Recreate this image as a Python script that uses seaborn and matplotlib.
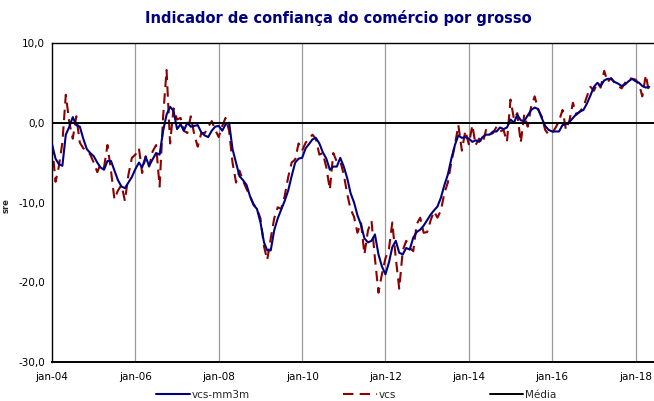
import numpy as np
import pandas as pd
import seaborn as sns
import matplotlib.pyplot as plt

# saldo de respostas extremas, mensal, jan-2004 a mai-2018
vcs_mm3m = [
    -2.7, -4.5, -5.2, -5.4, -1.5, -0.5, 0.7, -0.3, -0.5, -2.0, -3.3, -3.8,
    -4.2, -5.0, -5.6, -5.9, -4.8, -4.8, -6.0, -7.2, -8.0, -8.2, -7.5, -6.8,
    -5.8, -5.0, -5.6, -4.3, -5.4, -4.6, -3.8, -4.0, -1.0, 1.0, 2.0, 1.5,
    -0.8, -0.2, -1.0, 0.0, -0.5, -0.4, -0.3, -1.2, -1.6, -1.8, -1.0, -0.5,
    -0.4, -1.0, -0.2, 0.0, -3.3, -5.0, -6.7, -7.2, -7.8, -9.2, -10.3, -10.8,
    -12.5, -15.0, -16.0, -16.0, -13.5, -12.0, -10.9, -9.8, -8.5, -6.7, -5.0, -4.5,
    -4.4, -3.2, -2.7, -2.1, -1.9, -2.6, -3.7, -4.5, -5.9, -5.5, -5.5, -4.4,
    -5.5, -7.0, -8.8, -10.0, -11.6, -12.8, -14.5, -15.0, -14.8, -14.0, -16.5, -18.0,
    -19.0, -17.5, -15.6, -14.8, -16.3, -16.5, -15.7, -15.9, -14.4, -13.7, -13.4, -12.9,
    -12.2, -11.5, -11.0, -10.5, -9.4, -7.8, -6.5, -4.5, -2.8, -1.6, -1.9, -1.8,
    -2.0, -2.4, -2.2, -2.4, -1.8, -1.5, -1.5, -1.1, -1.1, -0.6, -0.8, -0.6,
    0.4, 0.0, 1.0, 0.3, 0.2, 0.9, 1.6, 1.9, 1.7, 0.6, -0.4, -0.9,
    -1.1, -1.1, -1.1, -0.3, -0.2, 0.1, 0.6, 1.1, 1.4, 1.6, 2.4, 3.4,
    4.5, 5.0, 4.6, 5.3, 5.5, 5.5, 5.1, 4.9, 4.6, 4.8, 5.2, 5.5,
    5.2, 5.0, 4.6, 4.4, 4.5,
]

vcs = [
    -2.7, -7.4, -5.5, -2.5, 3.5, 0.0, -2.0, 0.8, -2.5, -3.2, -3.5, -4.0,
    -5.0, -6.2, -5.2, -5.6, -2.8, -6.0, -9.6, -8.5, -7.8, -9.8, -6.5, -4.4,
    -4.0, -3.2, -6.3, -4.2, -5.5, -3.6, -2.8, -8.0, 0.8, 6.6, -2.6, 1.8,
    0.4, 0.6, -1.0, -1.3, 0.8, -1.5, -3.0, -1.3, -1.3, -0.5, 0.2, -0.9,
    -1.8, -0.4, 0.6, -1.0, -5.0, -7.5, -6.0, -7.3, -8.3, -9.2, -10.2, -10.8,
    -12.0, -15.5, -17.2, -14.5, -12.0, -10.6, -10.8, -9.2, -6.8, -5.0, -4.6, -2.6,
    -3.5, -2.5, -2.1, -1.5, -2.0, -4.0, -3.8, -5.6, -8.4, -3.8, -4.9, -4.8,
    -6.5, -9.0, -10.8, -11.8, -13.8, -12.5, -16.5, -13.5, -12.3, -17.0, -21.3, -19.0,
    -17.0, -15.8, -12.5, -17.0, -20.8, -16.0, -14.8, -15.7, -16.1, -12.7, -11.9, -13.8,
    -13.7, -12.2, -11.1, -11.9, -11.0, -8.8, -7.5, -4.9, -2.8, -0.3, -3.5, -1.0,
    -2.7, -0.3, -2.8, -2.0, -2.6, -0.9, -1.5, -1.3, -0.5, -1.1, -0.9, -2.4,
    2.9, 0.4, 1.2, -2.5, 1.0, -0.5, 2.0, 3.3, 1.6, 0.8, -0.9, -1.5,
    -1.3, -0.6, 0.2, 1.6, -0.9, 0.3, 2.5, 1.0, 1.4, 2.0, 3.3, 4.5,
    4.0, 5.0, 4.4, 6.5, 5.1, 5.6, 5.0, 4.6, 4.3, 5.0, 5.6, 5.5,
    5.4, 4.8, 3.3, 6.0, 3.6,
]

media = 0.0

tick_dates = ['2004-01-01', '2006-01-01', '2008-01-01', '2010-01-01',
              '2012-01-01', '2014-01-01', '2016-01-01', '2018-01-01']
tick_labels = ['jan-04', 'jan-06', 'jan-08', 'jan-10',
               'jan-12', 'jan-14', 'jan-16', 'jan-18']
y_ticks = [-30, -20, -10, 0, 10]
y_labels = ['-30,0', '-20,0', '-10,0', '0,0', '10,0']

datas = pd.date_range('2004-01-01', periods=len(vcs), freq='MS')
df = pd.DataFrame({'data': datas, 'vcs-mm3m': vcs_mm3m, 'vcs': vcs})

sns.set_theme(style='white')
plt.rcParams['font.family'] = ['DejaVu Sans']

fig = plt.figure(figsize=(6.54, 4.01), dpi=100)
ax = fig.add_axes([0.0795, 0.097, 0.93, 0.796])

sns.lineplot(data=df, x='data', y='vcs-mm3m', ax=ax, color='#000080',
             linewidth=1.5, label='vcs-mm3m', zorder=3)
sns.lineplot(data=df, x='data', y='vcs', ax=ax, color='#8B0000',
             linewidth=1.5, label='vcs', zorder=2)
ax.lines[-1].set_dashes((5, 3))
ax.axhline(media, color='black', linewidth=1.4, label='Média', zorder=4)

tdates = pd.to_datetime(tick_dates)
for d in tdates[1:]:
    ax.axvline(d, color='#999999', linewidth=0.9, zorder=1)

ax.set_xlim(pd.Timestamp('2004-01-01'), pd.Timestamp('2018-08-05'))
ax.set_ylim(-30, 10)
ax.set_xticks(tdates)
ax.set_xticklabels(tick_labels, fontsize=7.5)
ax.set_yticks(y_ticks)
ax.set_yticklabels(y_labels, fontsize=7.5)
ax.tick_params(axis='both', direction='out', length=3, width=0.8,
               colors='black', pad=2)
ax.tick_params(axis='x', pad=4)
for s in ax.spines.values():
    s.set_color('black')
    s.set_linewidth(1.0)
ax.spines['bottom'].set_linewidth(1.4)

ax.set_xlabel('')
ax.set_ylabel('sre', fontsize=6, fontweight='bold', labelpad=2)
ax.yaxis.set_label_coords(-0.068, 0.49)

fig.suptitle('Indicador de confiança do comércio por grosso', x=0.517, y=0.975,
             fontsize=10.5, fontweight='bold', color='#000080')

handles, labels = ax.get_legend_handles_labels()
ax.get_legend().remove()
fig.legend(handles, labels, loc='center', bbox_to_anchor=(0.545, 0.015),
           ncol=3, frameon=False, fontsize=7.5, columnspacing=9,
           handlelength=3.2, handletextpad=0.2, borderpad=0.1)

fig.savefig('out.png', dpi=100)
